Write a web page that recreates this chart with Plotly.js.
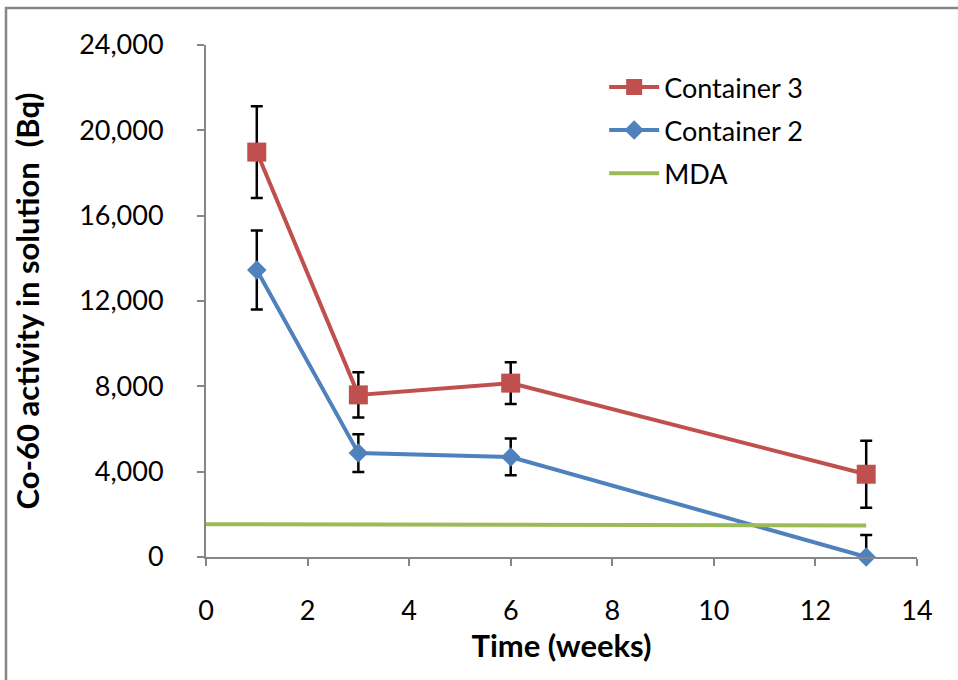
<!DOCTYPE html>
<html>
<head>
<meta charset="utf-8">
<script src="https://cdn.plot.ly/plotly-3.0.1.min.js"></script>
<style>html,body{margin:0;padding:0;background:#fff;}#chart{width:958px;height:680px;}</style>
</head>
<body>
<div id="chart"></div>
<script>
const weeks = [1, 3, 6, 13];
const container3 = [18980, 7600, 8150, 3880];
const container3Err = [2150, 1060, 980, 1570];
const container2 = [13450, 4870, 4690, 0];
const container2ErrPlus = [1850, 880, 860, 1030];
const container2ErrMinus = [1850, 880, 860, 0];
const mdaX = [0, 13];
const mdaY = [1540, 1480];
const xTicks = [0, 2, 4, 6, 8, 10, 12, 14];
const yTicks = [0, 4000, 8000, 12000, 16000, 20000, 24000];

const FONT = 'Lato, "Open Sans", "Liberation Sans", sans-serif';

const traces = [
  {
    x: weeks, y: container3, name: 'Container 3', type: 'scatter', mode: 'lines+markers',
    legendgroup: 'g1',
    line: {color: '#C0504D', width: 4},
    marker: {symbol: 'square', size: 19, color: '#C0504D'},
    error_y: {type: 'data', array: container3Err, visible: true, color: '#000000', thickness: 2.5, width: 6},
    cliponaxis: false
  },
  {
    x: weeks, y: container2, name: 'Container 2', type: 'scatter', mode: 'lines+markers',
    legendgroup: 'g2',
    line: {color: '#4F81BD', width: 4},
    marker: {symbol: 'diamond', size: 15, color: '#4F81BD'},
    error_y: {type: 'data', symmetric: false, array: container2ErrPlus, arrayminus: container2ErrMinus, visible: true, color: '#000000', thickness: 2.5, width: 6},
    cliponaxis: false
  },
  {
    x: mdaX, y: mdaY, name: 'MDA', type: 'scatter', mode: 'lines',
    legendgroup: 'g3',
    line: {color: '#9BBB59', width: 4}
  }
];

const layout = {
  width: 958, height: 680,
  margin: {l: 206, r: 41, t: 45, b: 123},
  paper_bgcolor: '#ffffff', plot_bgcolor: '#ffffff',
  font: {family: FONT, size: 27, color: '#000000'},
  showlegend: true,
  legend: {
    x: 0.56, y: 0.965, xanchor: 'left', yanchor: 'top',
    bgcolor: 'rgba(0,0,0,0)', font: {family: FONT, size: 27, color: '#000'},
    itemwidth: 50, tracegroupgap: 5
  },
  xaxis: {
    range: [0, 14], tickvals: xTicks, ticktext: xTicks.map(String),
    showgrid: false, zeroline: false, showline: true, linecolor: '#868686', linewidth: 2,
    ticks: 'outside', ticklen: 7, tickcolor: '#868686', tickwidth: 2,
    ticklabelstandoff: 22,
    tickfont: {family: FONT, size: 27, color: '#000'},
    title: {text: '<b>Time (weeks)</b>', font: {family: FONT, size: 31, color: '#000'}, standoff: 10}
  },
  yaxis: {
    range: [0, 24000], tickvals: yTicks, ticktext: yTicks.map(v => v.toLocaleString('en-US')),
    showgrid: false, zeroline: false, showline: true, linecolor: '#868686', linewidth: 2,
    ticks: 'outside', ticklen: 7, tickcolor: '#868686', tickwidth: 2,
    ticklabelstandoff: 28,
    tickfont: {family: FONT, size: 27, color: '#000'},
    title: {text: '<b>Co-60 activity in solution&nbsp; (Bq)</b>', font: {family: FONT, size: 31, color: '#000'}, standoff: 30}
  },
  shapes: [
    {type: 'rect', xref: 'paper', yref: 'paper', x0: -0.2813, x1: 1.2, y0: -0.4, y1: 1.0723,
     line: {color: '#868686', width: 2.5}, fillcolor: 'rgba(0,0,0,0)', layer: 'below'}
  ]
};

Plotly.newPlot('chart', traces, layout, {displayModeBar: false, staticPlot: true});
</script>
</body>
</html>
